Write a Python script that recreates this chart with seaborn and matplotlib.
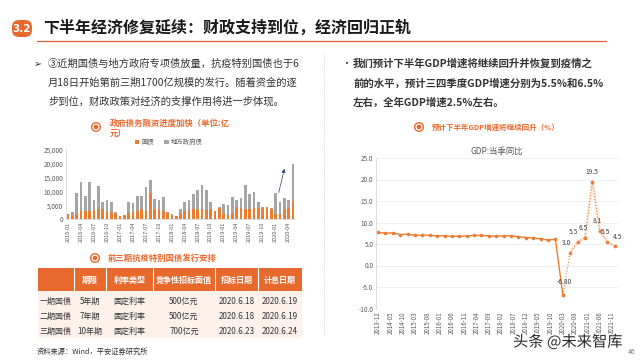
import matplotlib
matplotlib.use("Agg")
import matplotlib.pyplot as plt
from matplotlib.patches import Rectangle, Circle, FancyBboxPatch
import matplotlib.patheffects as pe
import pandas as pd
import seaborn as sns

sns.set_theme(style="white")
plt.rcParams['font.family'] = ['Noto Sans CJK SC', 'DejaVu Sans']
plt.rcParams['axes.unicode_minus'] = False

W, H = 640, 360
ORANGE = "#E8692D"
BAR_OR = "#ED7D31"
BAR_GR = "#A5A5A5"
TXT = "#333333"
AX_TXT = "#595959"

# ---- 政府债务融资 (亿元), 2016-01 .. 2020-05
bond_months = pd.period_range("2016-01", "2020-05", freq="M").strftime("%Y-%m").tolist()
bond_total = [1700, 2500, 9500, 13500, 8200, 13500, 7000, 12000, 6000, 7000, 6000, 2500,
              1000, 1500, 6300, 5800, 8200, 8500, 11500, 14000, 7200, 7000, 7800, 2500,
              1800, 1200, 3800, 6000, 7000, 9000, 10500, 12500, 10500, 6000, 3000, 4200,
              5500, 5000, 8000, 6800, 7500, 12500, 9000, 9800, 6000, 4500, 4500, 4000,
              9500, 6200, 7500, 7000, 19800]
bond_treasury = [1700, 1000, 2000, 2800, 3000, 3000, 3200, 3800, 3500, 2500, 2500, 1800,
                 1000, 1500, 2300, 2500, 3000, 3500, 3000, 9500, 3800, 3500, 3000, 2200,
                 1500, 1000, 2000, 3000, 3200, 3800, 3300, 3500, 3200, 3500, 2800, 4000,
                 1800, 1600, 2000, 4500, 4000, 3800, 3700, 4000, 4000, 4000, 4200, 3800,
                 1800, 1800, 3800, 4000, 6500]
bond_ticks = bond_months[::3]

# ---- GDP 当季同比 (%)
gdp_axis_months = pd.period_range("2013-12", "2021-12", freq="M").strftime("%Y-%m").tolist()
gdp_quarters = gdp_axis_months[::3]
gdp_actual = [7.7, 7.5, 7.6, 7.2, 7.3, 7.0, 7.1, 7.0, 6.9, 6.9, 6.8, 6.8, 6.9,
              7.0, 7.0, 6.9, 6.8, 6.9, 6.9, 6.7, 6.5, 6.4, 6.2, 5.9, 6.1, -6.8]
gdp_forecast = [-6.8, 3.0, 5.5, 6.5, 19.5, 8.1, 5.5, 4.5]
gdp_labels = ["-6.80", "3.0", "5.5", "6.5", "19.5", "8.1", "5.5", "4.5"]
gdp_ticks = gdp_axis_months[::5]

# ---- 抗疫特别国债
tbl_header = ["", "期限", "利率类型", "竞争性招标面值", "招标日期", "计息日期"]
tbl_rows = [["一期国债", "5年期", "固定利率", "500亿元", "2020.6.18", "2020.6.19"],
            ["二期国债", "7年期", "固定利率", "500亿元", "2020.6.18", "2020.6.19"],
            ["三期国债", "10年期", "固定利率", "700亿元", "2020.6.23", "2020.6.24"]]

fig = plt.figure(figsize=(6.4, 3.6), dpi=100)
fig.patch.set_facecolor("white")


def px_axes(l, t, r, b, **kw):
    return fig.add_axes([l / W, 1 - b / H, (r - l) / W, (b - t) / H], **kw)


# ---------------- bar chart
ax1 = px_axes(66, 150, 295, 219)
bdf = pd.DataFrame({"month": bond_months, "total": bond_total, "treasury": bond_treasury})
sns.barplot(data=bdf, x="month", y="total", color=BAR_GR, saturation=1, width=0.62,
            linewidth=0, ax=ax1, label="地方政府债")
sns.barplot(data=bdf, x="month", y="treasury", color=BAR_OR, saturation=1, width=0.62,
            linewidth=0, ax=ax1, label="国债")
ax1.set_xlim(-0.5, len(bond_months) - 0.5)
ax1.set_ylim(0, 25000)
ax1.set_yticks(range(0, 25001, 5000))
ax1.set_yticklabels([f"{v:,}" for v in range(0, 25001, 5000)], fontsize=4.6, color=AX_TXT)
ax1.set_xticks(range(0, len(bond_months), 3))
ax1.set_xticklabels(bond_ticks, rotation=90, fontsize=4.0, color=AX_TXT)
ax1.tick_params(length=0, pad=2)
ax1.set_xlabel("")
ax1.set_ylabel("")
for s in ["top", "right"]:
    ax1.spines[s].set_visible(False)
for s in ["left", "bottom"]:
    ax1.spines[s].set_color("#D9D9D9")
    ax1.spines[s].set_linewidth(0.6)
h, l = ax1.get_legend_handles_labels()
ax1.legend(h[::-1], l[::-1], loc="lower center", bbox_to_anchor=(0.45, 0.97), ncol=2,
           frameon=False, fontsize=4.6, handlelength=0.7, handleheight=0.7,
           handletextpad=0.4, columnspacing=1.5, labelcolor=AX_TXT)
ax1.annotate("", xy=(50.2, 19200), xytext=(48.6, 8700),
             arrowprops=dict(arrowstyle="-|>", color="#2F4B7C", lw=0.6,
                             linestyle=(0, (2, 1)), mutation_scale=5))

# ---------------- line chart
ax2 = px_axes(376, 158, 618, 308.5)
hist_x = [gdp_axis_months.index(m) for m in gdp_quarters[:len(gdp_actual)]]
fc_x = [gdp_axis_months.index(m) for m in gdp_quarters[len(gdp_actual) - 1:]]
ax2.plot(fc_x[1:], gdp_forecast[1:], color="#FBE3D3", lw=2.5, alpha=0.6,
         solid_capstyle="round", zorder=1)
sns.lineplot(x=fc_x, y=gdp_forecast, ax=ax2, color=BAR_OR, lw=0.8, linestyle=":",
             marker="o", markersize=2.6, markeredgewidth=0)
sns.lineplot(x=hist_x, y=gdp_actual, ax=ax2, color=BAR_OR, lw=1.0,
             marker="o", markersize=2.6, markeredgewidth=0)
offsets = [(1, 6), (-3, 4), (-3, 4), (-1, 4), (0, 4), (-2, 4), (-1, 4), (2, 4)]
for x, y, s, o in zip(fc_x, gdp_forecast, gdp_labels, offsets):
    ax2.annotate(s, (x, y), textcoords="offset points", xytext=o, ha="center",
                 va="bottom", fontsize=4.8, color="#404040")
ax2.set_xlim(-0.8, 97.4)
ax2.set_ylim(-10, 25)
ax2.set_yticks(range(-10, 26, 5))
ax2.set_yticklabels([f"{v:.1f}" for v in range(-10, 26, 5)], fontsize=4.6, color=AX_TXT)
ax2.set_xticks(range(0, len(gdp_axis_months), 5))
ax2.set_xticklabels(gdp_ticks, rotation=90, fontsize=4.4, color=AX_TXT)
ax2.tick_params(length=0, pad=2)
ax2.grid(axis="y", color="#EDEDED", lw=0.6)
for s in ["top", "right", "bottom"]:
    ax2.spines[s].set_visible(False)
ax2.spines["left"].set_color("#D9D9D9")
ax2.spines["left"].set_linewidth(0.6)
ax2.set_title("GDP:当季同比", fontsize=6, color=AX_TXT, pad=3)

# ---------------- slide overlay
ov = fig.add_axes([0, 0, 1, 1], zorder=10)
ov.set_xlim(0, W)
ov.set_ylim(H, 0)
ov.axis("off")
ov.patch.set_alpha(0)

ov.add_patch(FancyBboxPatch((12, 20), 20, 17, boxstyle="round,pad=0,rounding_size=7",
                            fc=ORANGE, ec="none"))
ov.text(22, 28.5, "3.2", color="white", fontsize=7.5, fontweight="bold",
        ha="center", va="center", family="DejaVu Sans")
ov.text(43, 28, "下半年经济修复延续：财政支持到位，经济回归正轨", fontsize=11.5,
        fontweight="bold", color="#1A1A1A", va="center")
ov.plot([37, 606], [41, 41], color="#E0603A", lw=0.9)

left_lines = ["③近期国债与地方政府专项债放量，抗疫特别国债也于6",
              "月18日开始第前三期1700亿规模的发行。随着资金的逐",
              "步到位，财政政策对经济的支撑作用将进一步体现。"]
ov.text(34, 64, "➢", fontsize=7, color=TXT, va="center", family=["DejaVu Sans"])
for i, s in enumerate(left_lines):
    ov.text(48, 64 + 19 * i, s, fontsize=7.4, color=TXT, va="center")

right_lines = ["我们预计下半年GDP增速将继续回升并恢复到疫情之",
               "前的水平，预计三四季度GDP增速分别为5.5%和6.5%",
               "左右，全年GDP增速2.5%左右。"]
ov.text(341, 64, "•", fontsize=7, color=TXT, va="center")
for i, s in enumerate(right_lines):
    ov.text(353, 64 + 19.5 * i, s, fontsize=7.5, fontweight="bold", color=TXT, va="center")

ov.plot([324, 324], [55, 336], color="#C8C8C8", lw=0.6, linestyle=(0, (1, 1.5)))


def icon(x, y):
    ov.add_patch(Circle((x, y), 5, fc=ORANGE, ec="none"))
    ov.add_patch(Circle((x, y), 3.6, fc="white", ec="none"))
    ov.add_patch(Circle((x, y), 2.3, fc=ORANGE, ec="none"))


icon(96, 127)
ov.text(110, 123, "政府债务融资进度加快（单位:亿", fontsize=6, fontweight="bold",
        color=ORANGE, va="center")
ov.text(110, 133, "元）", fontsize=6, fontweight="bold", color=ORANGE, va="center")
icon(95, 258)
ov.text(108, 258, "前三期抗疫特别国债发行安排", fontsize=6, fontweight="bold",
        color=ORANGE, va="center")
icon(419, 127)
ov.text(432, 127, "预计下半年GDP增速将继续回升（%）", fontsize=5.4, fontweight="bold",
        color=ORANGE, va="center")

# table
col_edges = [38, 74, 106, 153, 215, 258, 302]
ov.add_patch(Rectangle((38, 268), 264, 23, fc=ORANGE, ec="none"))
ov.add_patch(Rectangle((38, 291), 264, 47, fc="#FDF1EC", ec="none"))
for xe in col_edges[1:-1]:
    ov.plot([xe, xe], [268, 291], color="white", lw=0.8)
row_y = [301, 316.5, 331]
for j, htxt in enumerate(tbl_header):
    cx = (col_edges[j] + col_edges[j + 1]) / 2
    ov.text(cx, 280, htxt, fontsize=5.8, fontweight="bold", color="white",
            ha="center", va="center")
    for r, row in enumerate(tbl_rows):
        ov.text(cx, row_y[r], row[j], fontsize=5.8, color=TXT, ha="center", va="center")

ov.text(37, 352, "资料来源：Wind，平安证券研究所", fontsize=5.2, color=TXT, va="center")
ov.text(513, 342, "头条 @未来智库", fontsize=11, color="#2A2A2A", va="center",
        path_effects=[pe.withStroke(linewidth=2, foreground="white")])
ov.text(632, 352, "46", fontsize=5, color="#7F7F7F", ha="center", va="center")

fig.savefig("out.png", dpi=100)
